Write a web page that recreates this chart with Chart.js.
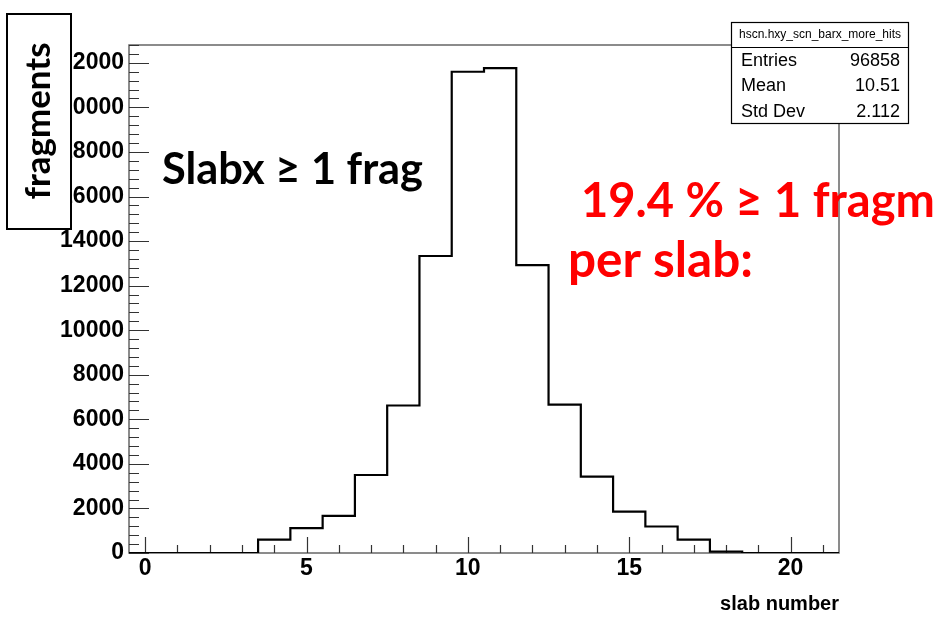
<!DOCTYPE html>
<html>
<head>
<meta charset="utf-8">
<script src="https://cdn.jsdelivr.net/npm/chart.js@4.4.1/dist/chart.umd.min.js"></script>
<style>
  html, body { margin: 0; padding: 0; background: #fff; }
  canvas { display: block; }
</style>
</head>
<body>
<canvas id="slabChart" width="947" height="620"></canvas>
<script>
// bin centres (slab number) and fragment counts per slab
const slabBins = [0, 1, 2, 3, 4, 5, 6, 7, 8, 9, 10, 11, 12, 13, 14, 15, 16, 17, 18, 19, 20, 21];
const slabCounts = [0, 0, 0, 0, 600, 1120, 1670, 3500, 6620, 13330, 21600, 21760,
                    12920, 6660, 3430, 1860, 1190, 600, 60, 0, 0, 0];

const xTickValues = [0, 5, 10, 15, 20];
const yTickValues = [0, 2000, 4000, 6000, 8000, 10000, 12000, 14000, 16000, 18000, 20000, 22000];

const statsTitle = 'hscn.hxy_scn_barx_more_hits';
const statsNames = ['Entries', 'Mean', 'Std Dev'];
const statsValues = ['96858', '10.51', '2.112'];

const yTitle = 'fragments';
const xTitle = 'slab number';
const noteBlack = 'Slabx \u2265 1 frag';
const noteRed1 = '19.4 % \u2265 1 fragm';
const noteRed2 = 'per slab:';

// histogram outline: one point per lower bin edge, plus the last upper edge
const stepPoints = slabCounts.map((c, i) => ({ x: slabBins[i] - 0.5, y: c }));
stepPoints.push({ x: slabBins[slabBins.length - 1] + 0.5, y: slabCounts[slabCounts.length - 1] });

const tickFont = { family: '"Liberation Sans", Arial, sans-serif', weight: 'bold', size: 23 };
const noteFamily = 'Lato, "Open Sans", sans-serif';

// font size that makes text span the given width
function fitSize(ctx, text, weight, family, width) {
    ctx.font = `${weight} 100px ${family}`;
    return 100 * width / ctx.measureText(text).width;
}

// frame + inward ticks, drawn under the histogram
const rootFrame = {
    id: 'rootFrame',
    beforeDatasetsDraw(chart) {
        const { ctx, chartArea: a, scales: { x, y } } = chart;
        ctx.save();
        ctx.strokeStyle = '#666';
        ctx.lineWidth = 1.5;
        ctx.strokeRect(a.left, a.top, a.right - a.left, a.bottom - a.top);

        ctx.strokeStyle = '#333';
        ctx.lineWidth = 1.2;
        ctx.beginPath();
        for (let v = 0; v <= y.max; v += 400) {
            const py = Math.round(y.getPixelForValue(v)) + 0.5;
            const len = v % 2000 === 0 ? 20 : 10;
            ctx.moveTo(a.left, py);
            ctx.lineTo(a.left + len, py);
        }
        for (let v = 0; v <= 21; v++) {
            const px = Math.round(x.getPixelForValue(v)) + 0.5;
            const len = v % 5 === 0 ? 16 : 8;
            ctx.moveTo(px, a.bottom);
            ctx.lineTo(px, a.bottom - len);
        }
        ctx.stroke();
        ctx.restore();
    },
    afterDraw(chart) {
        const { ctx } = chart;
        ctx.save();

        // stats box
        ctx.fillStyle = '#fff';
        ctx.fillRect(731, 22, 178, 102);
        ctx.strokeStyle = '#000';
        ctx.lineWidth = 1.2;
        ctx.strokeRect(731.5, 22.5, 177, 101);
        ctx.beginPath();
        ctx.moveTo(731, 47.5);
        ctx.lineTo(909, 47.5);
        ctx.stroke();
        ctx.fillStyle = '#000';
        ctx.textBaseline = 'middle';
        ctx.textAlign = 'center';
        ctx.font = '12px "Liberation Sans", Arial, sans-serif';
        ctx.fillText(statsTitle, 820, 35);
        ctx.font = '18px "Liberation Sans", Arial, sans-serif';
        statsNames.forEach((name, i) => {
            const ry = 61 + i * 25.5;
            ctx.textAlign = 'left';
            ctx.fillText(name, 741, ry);
            ctx.textAlign = 'right';
            ctx.fillText(statsValues[i], 900, ry);
        });

        // y title box
        ctx.fillStyle = '#fff';
        ctx.fillRect(6, 13, 65, 216);
        ctx.strokeStyle = '#000';
        ctx.lineWidth = 2;
        ctx.strokeRect(7, 14, 64, 215);
        ctx.save();
        ctx.translate(50, 121);
        ctx.rotate(-Math.PI / 2);
        const ySize = fitSize(ctx, yTitle, 'bold', noteFamily, 157);
        ctx.font = `bold ${ySize}px ${noteFamily}`;
        ctx.fillStyle = '#000';
        ctx.textAlign = 'center';
        ctx.textBaseline = 'alphabetic';
        ctx.fillText(yTitle, 0, 0);
        ctx.restore();

        // annotations
        ctx.textAlign = 'left';
        ctx.textBaseline = 'alphabetic';
        ctx.fillStyle = '#000';
        ctx.font = `bold ${fitSize(ctx, noteBlack, 'bold', noteFamily, 261)}px ${noteFamily}`;
        ctx.fillText(noteBlack, 162, 184);

        ctx.fillStyle = '#ff0000';
        ctx.font = `bold ${fitSize(ctx, noteRed1, 'bold', noteFamily, 354)}px ${noteFamily}`;
        ctx.fillText(noteRed1, 581, 217);
        ctx.font = `bold ${fitSize(ctx, noteRed2, 'bold', noteFamily, 185)}px ${noteFamily}`;
        ctx.fillText(noteRed2, 568, 277);

        ctx.restore();
    }
};

new Chart(document.getElementById('slabChart'), {
    type: 'line',
    data: {
        datasets: [{
            data: stepPoints,
            stepped: true,
            borderColor: '#000',
            borderWidth: 2.2,
            pointRadius: 0,
            fill: false,
        }],
    },
    options: {
        responsive: false,
        animation: false,
        events: [],
        layout: { padding: { left: 0, right: 108, top: 45, bottom: 0 } },
        plugins: {
            legend: { display: false },
            tooltip: { enabled: false },
        },
        scales: {
            x: {
                type: 'linear',
                min: -0.5,
                max: 21.5,
                afterBuildTicks: s => { s.ticks = xTickValues.map(v => ({ value: v })); },
                afterFit: s => { s.height = 67; },
                grid: { display: false, drawTicks: false },
                border: { display: false },
                ticks: { color: '#000', font: tickFont, padding: 2, maxRotation: 0, callback: v => String(v) },
                title: {
                    display: true,
                    text: xTitle,
                    align: 'end',
                    color: '#000',
                    font: { family: '"Liberation Sans", Arial, sans-serif', weight: 'bold', size: 20 },
                    padding: { top: 0, bottom: 4 },
                },
            },
            y: {
                type: 'linear',
                min: 0,
                max: 22800,
                afterBuildTicks: s => { s.ticks = yTickValues.map(v => ({ value: v })); },
                afterFit: s => { s.width = 129; },
                grid: { display: false, drawTicks: false },
                border: { display: false },
                ticks: { color: '#000', font: tickFont, padding: 5, callback: v => String(v) },
            },
        },
    },
    plugins: [rootFrame],
});
</script>
</body>
</html>
